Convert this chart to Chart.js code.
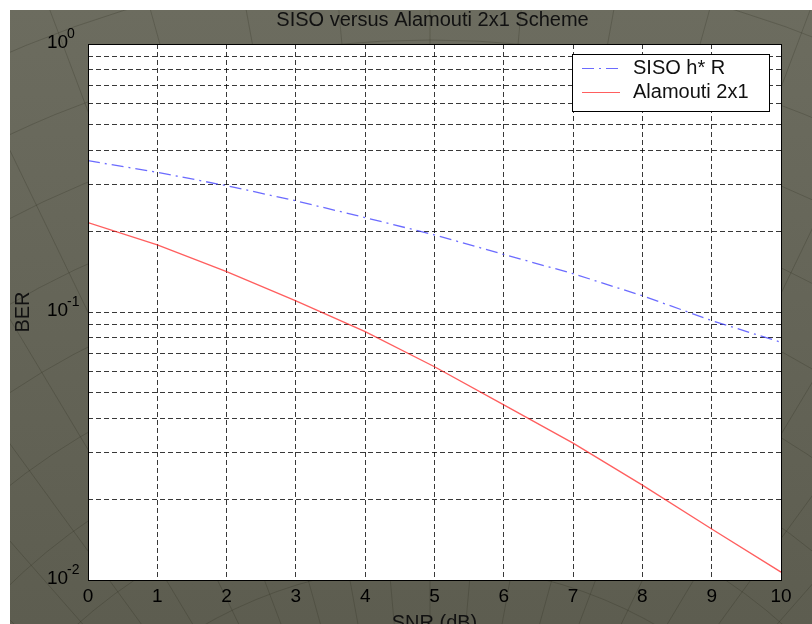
<!DOCTYPE html>
<html>
<head>
<meta charset="utf-8">
<script src="https://cdn.jsdelivr.net/npm/chart.js@4.4.0/dist/chart.umd.min.js"></script>
<style>
  html, body { margin: 0; padding: 0; background: #fff; }
  canvas { display: block; }
</style>
</head>
<body>
<canvas id="berChart" width="812" height="624"></canvas>
<script>
// values
const snrDb = [0, 1, 2, 3, 4, 5, 6, 7, 8, 9, 10];
const berSiso = [0.367, 0.332, 0.296, 0.260, 0.225, 0.194, 0.164, 0.139, 0.115, 0.0929, 0.0771];
const berAlamouti = [0.2155, 0.178, 0.1414, 0.110, 0.0845, 0.0625, 0.045, 0.0324, 0.0226, 0.0155, 0.0107];

const xTicks = [0, 1, 2, 3, 4, 5, 6, 7, 8, 9, 10];
const yTicks = [0.01, 0.02, 0.03, 0.04, 0.05, 0.06, 0.07, 0.08, 0.09,
                0.1, 0.2, 0.3, 0.4, 0.5, 0.6, 0.7, 0.8, 0.9, 1];
const yDecades = [1, 0.1, 0.01];
const yExponents = ['0', '-1', '-2'];

const FONT = '"Liberation Sans", Arial, sans-serif';
const GRID = 'rgba(0,0,0,0.78)';

// gray figure background with a faint curved texture
const backdrop = {
    id: 'backdrop',
    beforeDraw(chart) {
        const { ctx, chartArea: a } = chart;
        ctx.save();
        ctx.fillStyle = '#fff';
        ctx.fillRect(0, 0, chart.width, chart.height);
        const g = ctx.createLinearGradient(0, 10, 0, chart.height);
        g.addColorStop(0, '#6c6c5f');
        g.addColorStop(1, '#5d5d50');
        ctx.fillStyle = g;
        ctx.fillRect(10, 10, chart.width - 10, chart.height - 10);

        ctx.beginPath();
        ctx.rect(10, 10, chart.width - 10, chart.height - 10);
        ctx.clip();
        ctx.strokeStyle = 'rgba(35,35,25,0.22)';
        ctx.lineWidth = 1;
        for (let r = 380; r < 1200; r += 75) {
            ctx.beginPath();
            ctx.arc(430, 1020, r, 0, Math.PI * 2);
            ctx.stroke();
        }
        for (let k = -9; k <= 9; k++) {
            const ang = -Math.PI / 2 + k * 0.09;
            ctx.beginPath();
            ctx.moveTo(430, 1020);
            ctx.lineTo(430 + Math.cos(ang) * 1300, 1020 + Math.sin(ang) * 1300);
            ctx.stroke();
        }
        ctx.restore();

        ctx.save();
        ctx.fillStyle = '#fff';
        ctx.fillRect(a.left, a.top, a.right - a.left, a.bottom - a.top);
        ctx.restore();
    }
};

// MATLAB-like frame, tick labels, title, axis labels and legend
const decorations = {
    id: 'decorations',
    afterDraw(chart) {
        const { ctx, chartArea: a, scales } = chart;
        ctx.save();
        ctx.strokeStyle = '#000';
        ctx.lineWidth = 1;
        ctx.strokeRect(Math.round(a.left) + 0.5, Math.round(a.top) + 0.5,
                       Math.round(a.right - a.left), Math.round(a.bottom - a.top));

        ctx.fillStyle = '#000';
        ctx.textBaseline = 'middle';

        // x tick labels
        ctx.font = '19px ' + FONT;
        ctx.textAlign = 'center';
        xTicks.forEach(v => {
            ctx.fillText(String(v), scales.x.getPixelForValue(v), 597);
        });

        // y decade labels 10^n
        yDecades.forEach((v, i) => {
            const y = scales.y.getPixelForValue(v);
            ctx.font = '19px ' + FONT;
            ctx.textAlign = 'left';
            ctx.fillText('10', 47, y - 1);
            ctx.font = '14px ' + FONT;
            ctx.fillText(yExponents[i], 67, y - 10);
        });

        // title
        ctx.font = '20px ' + FONT;
        ctx.textAlign = 'center';
        ctx.fillStyle = '#111';
        ctx.fillText('SISO versus Alamouti 2x1 Scheme', (a.left + a.right) / 2 - 2, 20);

        // axis labels
        ctx.textBaseline = 'alphabetic';
        ctx.fillText('SNR (dB)', (a.left + a.right) / 2, 629);
        ctx.save();
        ctx.translate(29, (a.top + a.bottom) / 2);
        ctx.rotate(-Math.PI / 2);
        ctx.fillText('BER', 0, 0);
        ctx.restore();

        // legend box inside the plot
        const lx = 572, ly = 54, lw = 197, lh = 57;
        ctx.fillStyle = '#fff';
        ctx.fillRect(lx, ly, lw, lh);
        ctx.strokeStyle = '#000';
        ctx.strokeRect(lx + 0.5, ly + 0.5, lw, lh);
        ctx.textBaseline = 'middle';
        ctx.textAlign = 'left';
        ctx.font = '20px ' + FONT;
        chart.data.datasets.forEach((ds, i) => {
            const y = 68 + i * 24;
            ctx.beginPath();
            ctx.strokeStyle = ds.borderColor;
            ctx.lineWidth = 1.2;
            ctx.setLineDash(ds.borderDash || []);
            ctx.moveTo(582, y + 0.5);
            ctx.lineTo(620, y + 0.5);
            ctx.stroke();
            ctx.setLineDash([]);
            ctx.fillStyle = '#111';
            ctx.fillText(ds.label, 633, y);
        });
        ctx.restore();
    }
};

new Chart(document.getElementById('berChart'), {
    type: 'line',
    data: {
        labels: snrDb,
        datasets: [
            {
                label: 'SISO h* R',
                data: snrDb.map((x, i) => ({ x, y: berSiso[i] })),
                borderColor: 'rgba(70,70,255,0.8)',
                borderWidth: 1.3,
                borderDash: [12, 5, 2, 5],
                pointRadius: 0,
                tension: 0
            },
            {
                label: 'Alamouti 2x1',
                data: snrDb.map((x, i) => ({ x, y: berAlamouti[i] })),
                borderColor: 'rgba(255,40,40,0.75)',
                borderWidth: 1.3,
                pointRadius: 0,
                tension: 0
            }
        ]
    },
    options: {
        responsive: false,
        animation: false,
        layout: { padding: { left: 88, top: 44, right: 31, bottom: 44 } },
        plugins: {
            legend: { display: false },
            title: { display: false },
            tooltip: { enabled: false }
        },
        scales: {
            x: {
                type: 'linear',
                min: 0,
                max: 10,
                afterBuildTicks: s => { s.ticks = xTicks.map(v => ({ value: v })); },
                afterFit: s => { s.height = 0; },
                ticks: { display: false },
                grid: { color: GRID, lineWidth: 1, drawTicks: false },
                border: { display: false, dash: [5, 3] }
            },
            y: {
                type: 'logarithmic',
                min: 0.01,
                max: 1,
                afterBuildTicks: s => { s.ticks = yTicks.map(v => ({ value: v })); },
                afterFit: s => { s.width = 0; },
                ticks: { display: false },
                grid: { color: GRID, lineWidth: 1, drawTicks: false },
                border: { display: false, dash: [5, 3] }
            }
        }
    },
    plugins: [backdrop, decorations]
});
</script>
</body>
</html>
